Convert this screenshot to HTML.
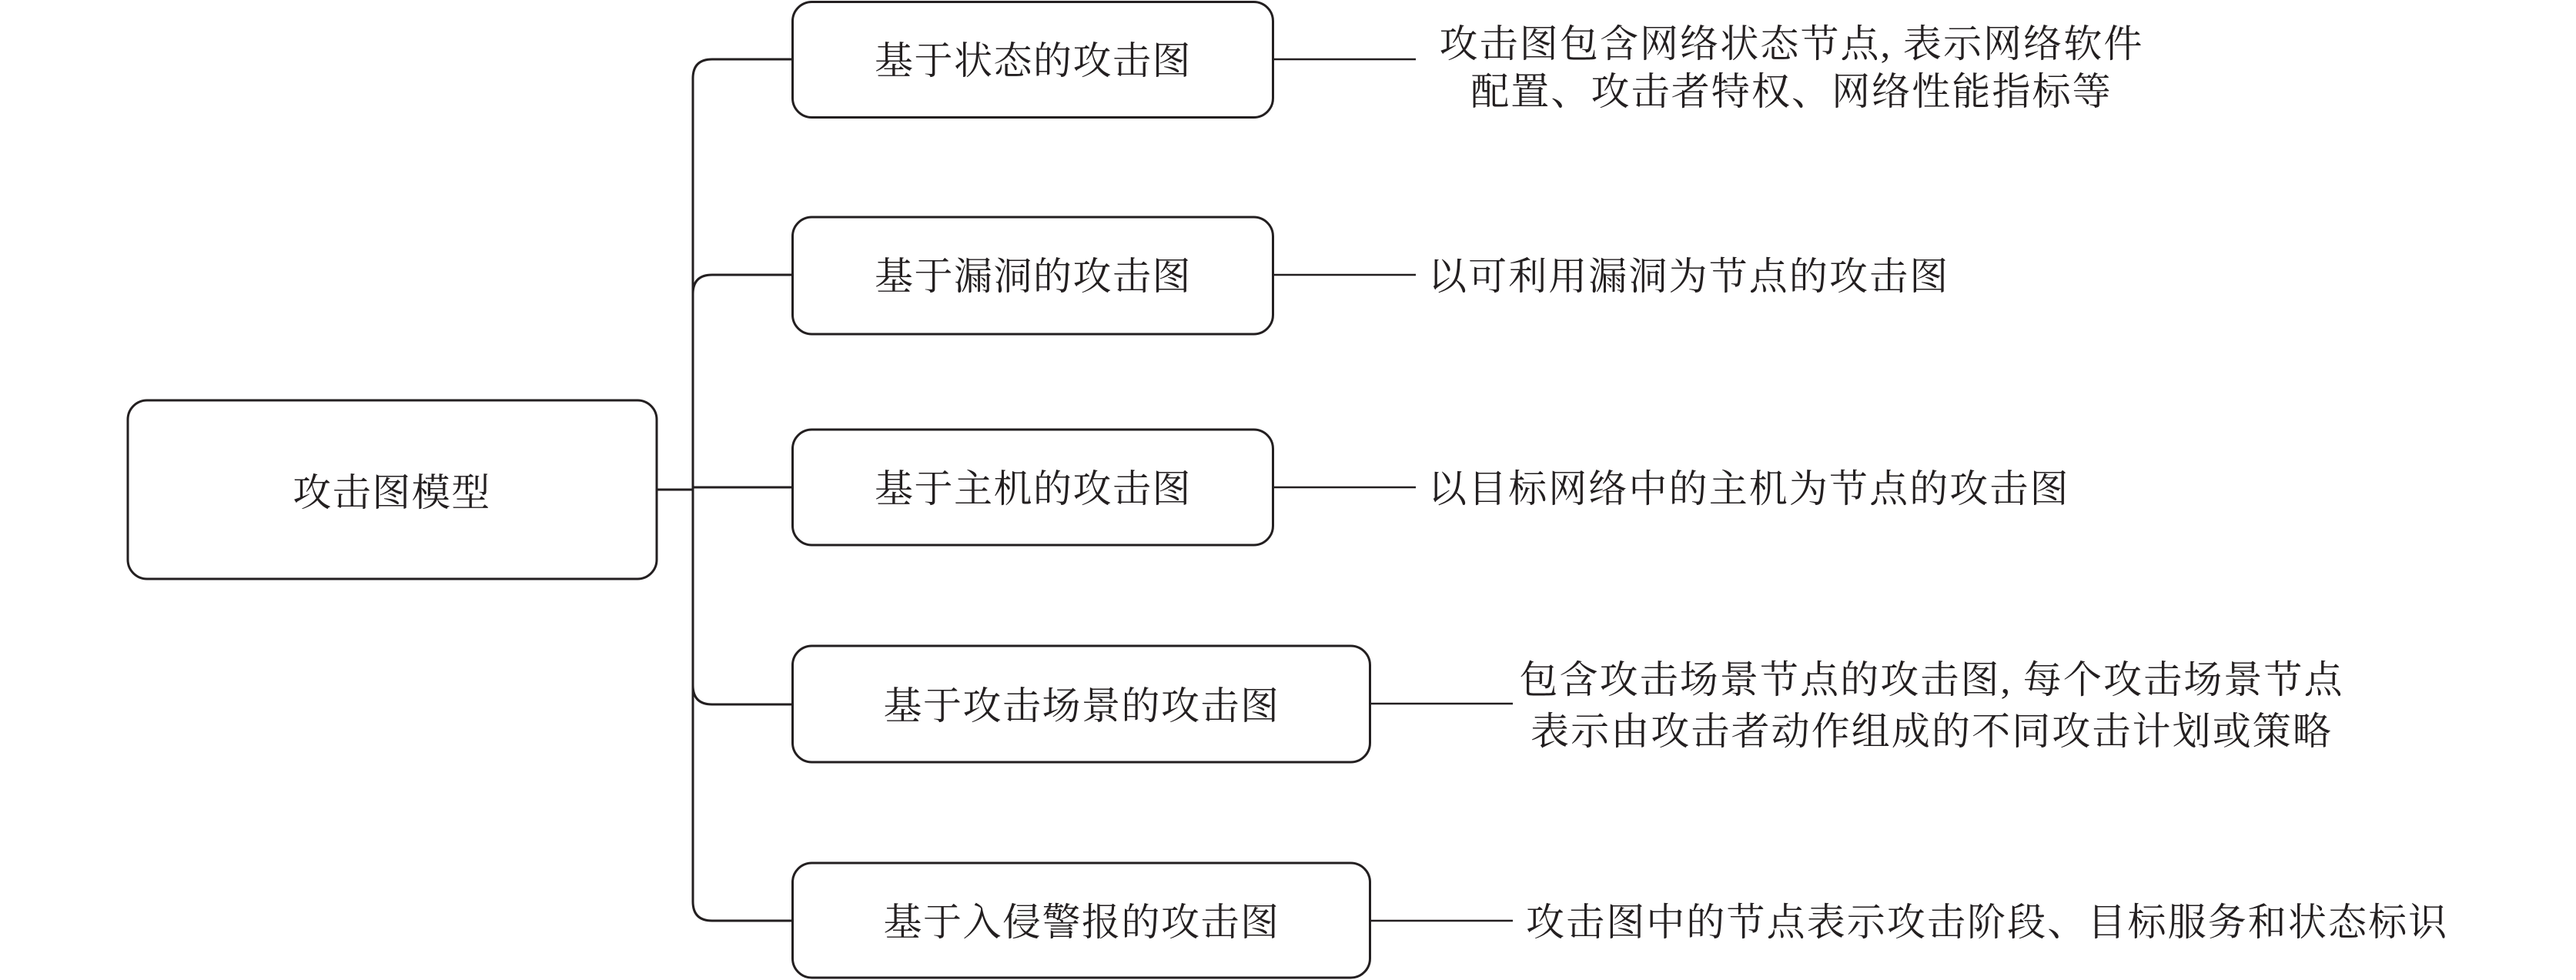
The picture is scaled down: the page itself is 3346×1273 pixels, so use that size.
<!DOCTYPE html>
<html>
<head>
<meta charset="utf-8">
<style>
  html, body { margin: 0; padding: 0; background: #ffffff; }
  body { width: 3346px; height: 1273px; overflow: hidden; }
  svg { display: block; }
  text {
    font-family: "Liberation Serif", "Noto Serif CJK SC", "Noto Sans CJK SC", serif;
    font-size: 50px;
    letter-spacing: 1.5px;
    fill: #231f20;
  }
  text.d { letter-spacing: 2.1px; }
</style>
</head>
<body>
<svg width="3346" height="1273" viewBox="0 0 3346 1273" xmlns="http://www.w3.org/2000/svg">
  <g fill="none" stroke="#231f20" stroke-width="3" stroke-linecap="butt" stroke-linejoin="round">
    <!-- root box -->
    <rect x="166" y="520" width="687" height="232" rx="25" ry="25"/>
    <!-- child boxes -->
    <rect x="1029.5" y="2.5" width="624" height="150" rx="25" ry="25"/>
    <rect x="1029.5" y="282" width="624" height="152" rx="25" ry="25"/>
    <rect x="1029.5" y="558" width="624" height="150" rx="25" ry="25"/>
    <rect x="1029.5" y="839" width="750" height="151" rx="25" ry="25"/>
    <rect x="1029.5" y="1121" width="750" height="149" rx="25" ry="25"/>

    <!-- root connector -->
    <path d="M 853 636 H 900"/>
    <!-- trunk with top and bottom branches -->
    <path d="M 1029 77 H 925 Q 900 77 900 102 V 1171 Q 900 1196 925 1196 H 1029"/>
    <!-- branch 2 -->
    <path d="M 1029 357 H 925 Q 900 357 900 382"/>
    <!-- branch 3 -->
    <path d="M 900 633 H 1029"/>
    <!-- branch 4 -->
    <path d="M 900 890 Q 900 915 925 915 H 1029"/>
  </g>

  <g fill="none" stroke="#231f20" stroke-width="2.6">
    <path d="M 1654 77 H 1839"/>
    <path d="M 1654 357 H 1839"/>
    <path d="M 1654 633 H 1839"/>
    <path d="M 1780 914 H 1965"/>
    <path d="M 1780 1196 H 1965"/>
  </g>

  <!-- labels -->
  <text x="509" y="657" text-anchor="middle">攻击图模型</text>

  <text x="1342" y="96" text-anchor="middle">基于状态的攻击图</text>
  <text x="1342" y="376" text-anchor="middle">基于漏洞的攻击图</text>
  <text x="1342" y="652" text-anchor="middle">基于主机的攻击图</text>
  <text x="1405" y="934" text-anchor="middle">基于攻击场景的攻击图</text>
  <text x="1405" y="1215" text-anchor="middle">基于入侵警报的攻击图</text>

  <!-- descriptions -->
  <text class="d" x="2327" y="74" text-anchor="middle">攻击图包含网络状态节点, 表示网络软件</text>
  <text class="d" x="2327" y="136" text-anchor="middle">配置、攻击者特权、网络性能指标等</text>

  <text class="d" x="1855" y="376">以可利用漏洞为节点的攻击图</text>

  <text class="d" x="1855" y="652">以目标网络中的主机为节点的攻击图</text>

  <text class="d" x="2509" y="900" text-anchor="middle">包含攻击场景节点的攻击图, 每个攻击场景节点</text>
  <text class="d" x="2509" y="967" text-anchor="middle">表示由攻击者动作组成的不同攻击计划或策略</text>

  <text class="d" x="1982" y="1215">攻击图中的节点表示攻击阶段、目标服务和状态标识</text>
</svg>
</body>
</html>
